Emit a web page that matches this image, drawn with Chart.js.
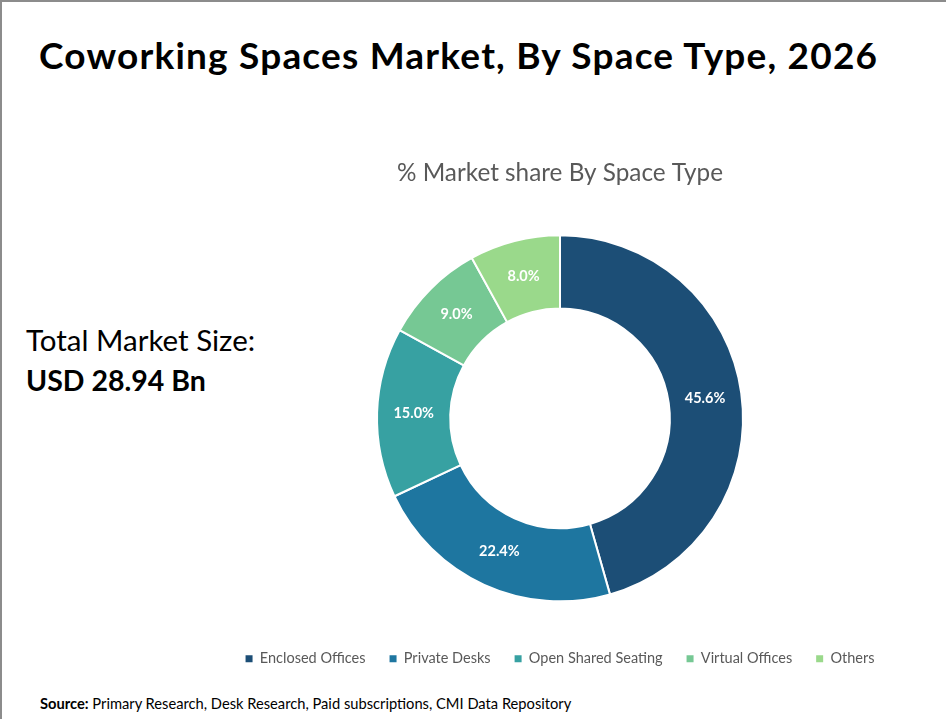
<!DOCTYPE html>
<html>
<head>
<meta charset="utf-8">
<script src="https://cdn.jsdelivr.net/npm/chart.js@4"></script>
<style>
  html, body { margin: 0; padding: 0; background: #fff; }
  body { width: 949px; height: 719px; position: relative; overflow: hidden; font-family: Lato, "Open Sans", sans-serif; }
  .frame { position: absolute; left: 0; top: 0; width: 946px; height: 719px; border-top: 2px solid #8c8c8c; border-left: 2px solid #8c8c8c; box-sizing: border-box; }
  #title { position: absolute; left: 39px; top: 32px; font-size: 37px; font-weight: 700; color: #000; white-space: nowrap; letter-spacing: 1.2px; }
  #total1 { position: absolute; left: 26px; top: 322px; font-size: 29.5px; color: #000; white-space: nowrap; }
  #total2 { position: absolute; left: 26px; top: 363px; font-size: 28.5px; font-weight: 700; color: #000; white-space: nowrap; }
  #source { position: absolute; left: 40px; top: 694px; font-size: 14.7px; color: #000; white-space: nowrap; }
  #wrap { position: absolute; left: 212px; top: 150px; width: 700px; height: 526px; }
</style>
</head>
<body>
<div class="frame"></div>
<div id="title">Coworking Spaces Market, By Space Type, 2026</div>
<div id="total1">Total Market Size:</div>
<div id="total2">USD 28.94 Bn</div>
<div id="source"><b>Source:</b> Primary Research, Desk Research, Paid subscriptions, CMI Data Repository</div>
<div id="wrap"><canvas id="c" width="700" height="526"></canvas></div>
<script>
const categories = ["Enclosed Offices", "Private Desks", "Open Shared Seating", "Virtual Offices", "Others"];
const shares = [45.6, 22.4, 15.0, 9.0, 8.0];
const sliceColors = ["#1c4e76", "#1e76a0", "#37a1a2", "#76c894", "#9ad98b"];
const chartSubtitle = "% Market share By Space Type";

const labelPlugin = {
  id: 'sliceLabels',
  afterDatasetsDraw(chart) {
    const ctx = chart.ctx;
    const meta = chart.getDatasetMeta(0);
    ctx.save();
    ctx.fillStyle = '#ffffff';
    ctx.font = 'bold 14.5px Lato, "Open Sans", sans-serif';
    ctx.textAlign = 'center';
    ctx.textBaseline = 'middle';
    meta.data.forEach((arc, i) => {
      const p = arc.tooltipPosition();
      ctx.fillText(shares[i].toFixed(1) + '%', p.x, p.y);
    });
    ctx.restore();
  }
};

new Chart(document.getElementById('c'), {
  type: 'doughnut',
  data: {
    labels: categories,
    datasets: [{
      data: shares,
      backgroundColor: sliceColors,
      borderColor: '#ffffff',
      borderWidth: 2,
      radius: 183
    }]
  },
  options: {
    responsive: false,
    animation: false,
    cutout: '60%',
    layout: { padding: { left: 0, right: 4 } },
    plugins: {
      tooltip: { enabled: false },
      title: {
        display: true,
        text: chartSubtitle,
        color: '#595959',
        font: { family: 'Lato, "Open Sans", sans-serif', size: 24.3, weight: 'normal' },
        padding: { top: 9, bottom: 21 }
      },
      legend: {
        position: 'bottom',
        labels: {
          color: '#595959',
          font: { family: 'Lato, "Open Sans", sans-serif', size: 14.5 },
          boxWidth: 7,
          boxHeight: 7,
          padding: 24,
          generateLabels(chart) {
            const items = Chart.overrides.doughnut.plugins.legend.labels.generateLabels(chart);
            return items.map(it => Object.assign(it, { lineWidth: 0, strokeStyle: 'rgba(0,0,0,0)' }));
          }
        }
      }
    }
  },
  plugins: [labelPlugin]
});
</script>
</body>
</html>
